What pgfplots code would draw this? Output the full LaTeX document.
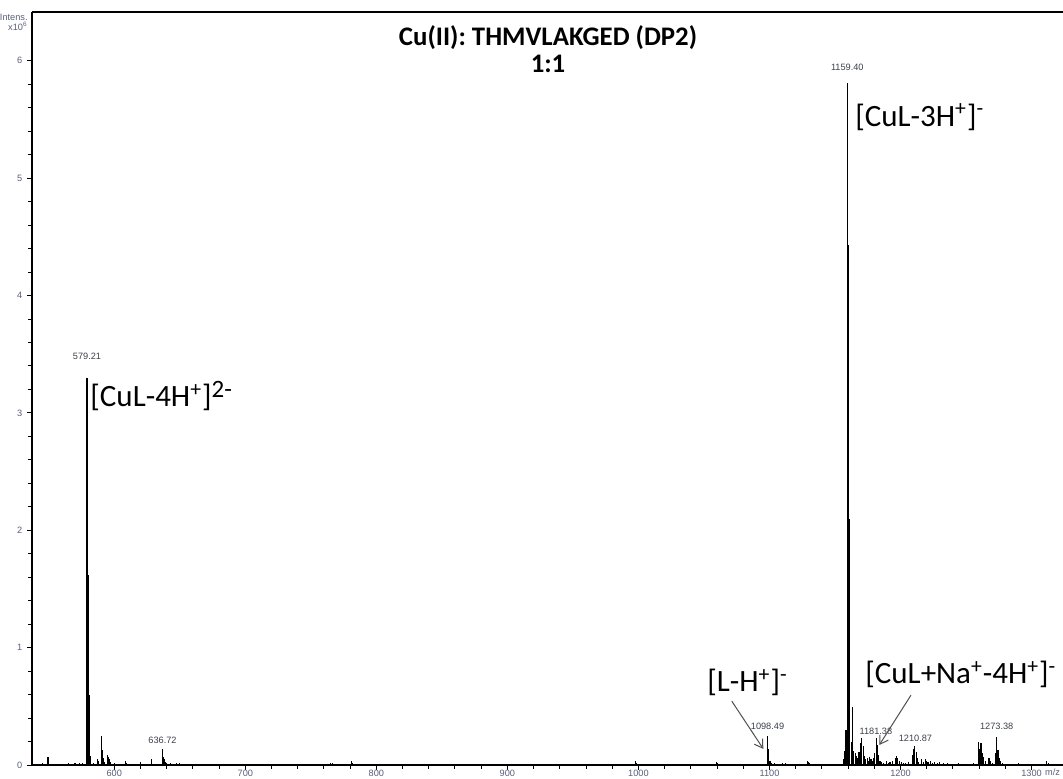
\documentclass[border=0pt]{standalone}
\usepackage{fontspec}
\setmainfont{Carlito}
\newfontfamily\arialfont{Liberation Sans}
\usepackage{pgfplots}
\pgfplotsset{compat=1.18}
\usetikzlibrary{arrows.meta}
\definecolor{tickgray}{RGB}{88,96,122}
\definecolor{peakgray}{RGB}{60,64,74}
\definecolor{arrowgray}{RGB}{80,80,80}

% m/z  intensity (x10^6)
\pgfplotstableread{
mz int
545.0 0.02
549.4 0.07
556.0 0.01
565.0 0.015
570.0 0.015
573.5 0.015
576.0 0.02
579.21 3.30
579.71 1.00
580.21 1.62
580.71 0.60
581.21 0.22
581.71 0.08
584.0 0.02
587.5 0.05
588.2 0.04
590.4 0.25
591.0 0.13
591.7 0.06
592.5 0.03
595.0 0.09
595.6 0.07
596.3 0.05
597.0 0.03
600.5 0.02
608.7 0.04
609.5 0.02
614.0 0.01
619.7 0.03
621.0 0.01
628.6 0.05
636.72 0.14
637.3 0.07
637.9 0.05
638.6 0.04
639.3 0.03
640.0 0.02
643.0 0.015
647.5 0.02
650.0 0.02
655.0 0.01
665.0 0.01
680.0 0.008
700.0 0.01
712.0 0.008
740.0 0.008
758.0 0.01
765.0 0.015
766.5 0.015
780.7 0.035
781.2 0.03
781.8 0.02
790.0 0.008
820.0 0.008
843.0 0.01
850.0 0.008
880.0 0.008
920.0 0.008
950.0 0.01
997.6 0.035
998.3 0.02
1040.0 0.008
1059.9 0.025
1060.5 0.015
1080.0 0.008
1090.0 0.01
1098.49 0.25
1099.5 0.14
1100.4 0.04
1101.5 0.02
1104.0 0.015
1110.0 0.015
1112.0 0.02
1119.0 0.01
1128.8 0.035
1129.5 0.03
1130.3 0.015
1140.0 0.01
1148.0 0.01
1156.3 0.05
1157.4 0.12
1158.4 0.30
1159.40 5.81
1159.90 2.40
1160.40 4.43
1160.90 2.10
1161.40 1.76
1162.40 0.20
1163.40 0.50
1164.4 0.12
1165.4 0.10
1166.3 0.08
1167.4 0.06
1168.3 0.11
1169.3 0.19
1170.5 0.23
1171.5 0.16
1172.5 0.08
1173.4 0.05
1174.5 0.06
1175.5 0.04
1176.6 0.07
1177.5 0.05
1178.5 0.04
1179.4 0.06
1180.4 0.10
1181.38 0.23
1182.4 0.17
1183.4 0.09
1184.3 0.04
1185.5 0.03
1187.0 0.02
1189.0 0.035
1190.5 0.02
1192.0 0.03
1194.0 0.04
1196.0 0.06
1197.0 0.08
1198.0 0.06
1199.0 0.04
1200.5 0.03
1202.0 0.02
1204.0 0.02
1206.0 0.03
1208.9 0.09
1209.9 0.14
1210.87 0.16
1211.9 0.11
1212.8 0.06
1214.0 0.03
1216.0 0.05
1217.5 0.03
1219.0 0.05
1220.0 0.04
1221.0 0.03
1223.0 0.04
1224.5 0.02
1226.0 0.03
1228.0 0.02
1230.0 0.025
1233.0 0.02
1236.0 0.015
1240.0 0.01
1244.0 0.015
1248.0 0.01
1252.0 0.01
1256.0 0.02
1259.3 0.20
1260.4 0.14
1261.4 0.19
1262.4 0.10
1263.5 0.07
1265.0 0.04
1267.5 0.06
1268.5 0.04
1270.0 0.02
1272.4 0.10
1273.38 0.24
1274.4 0.13
1275.4 0.06
1276.4 0.04
1278.0 0.02
1282.0 0.01
1290.0 0.015
1300.0 0.01
1311.7 0.04
1312.6 0.02
1314.0 0.01
1318.0 0.01
1322.0 0.01
}\spectrum

\newcommand{\smallarial}{\arialfont\fontsize{4.6}{5.2}\selectfont}
\newcommand{\ion}{\fontsize{15.5}{17}\selectfont}
% larger raised charge, as in the 2- of the doubly charged ion
\newcommand{\bigsup}[1]{\raisebox{0.62ex}{\fontsize{12.5}{13}\selectfont #1}}

\begin{document}
\begin{tikzpicture}
\begin{axis}[
  name=ax, at={(0,0)}, anchor=south west,
  scale only axis, width=515.5pt, height=376.6pt,
  xmin=537.2, xmax=1324, ymin=0, ymax=6.415,
  axis y line*=left,
  xtick={600,700,...,1300}, minor x tick num=4,
  ytick={0,1,...,6}, minor y tick num=4,
  xtick pos=left,
  tick align=outside,
  major tick length=2.4pt, minor tick length=1.8pt,
  tick style={black, line width=0.5pt},
  axis line style={line width=0.8pt},
  ticklabel style={font=\smallarial, text=tickgray},
  /pgf/number format/assume math mode=true,
  /pgf/number format/1000 sep={},
  xticklabel style={yshift=3.6pt},
  yticklabel style={xshift=1pt},
  clip=false,
]
\addplot[ycomb, black, line width=0.55pt, mark=none] table[x=mz, y=int] {\spectrum};

% peak labels
\begin{scope}[every node/.style={font=\smallarial, text=peakgray, inner sep=0pt}]
\node at (axis cs:579.21,3.48) {579.21};
\node at (axis cs:636.8,0.21) {636.72};
\node at (axis cs:1098.5,0.33) {1098.49};
\node at (axis cs:1159.4,5.94) {1159.40};
\node at (axis cs:1181.2,0.29) {1181.38};
\node at (axis cs:1211.4,0.23) {1210.87};
\node at (axis cs:1273.4,0.33) {1273.38};
\end{scope}

% ion assignments
\node[anchor=west, inner sep=0pt, font=\ion] at (axis cs:581.5,3.145)
  {[CuL-4H\textsuperscript{+}]\bigsup{2-}};
\node[anchor=west, inner sep=0pt, font=\ion] at (axis cs:1165.2,5.52)
  {[CuL-3H\textsuperscript{+}]\textsuperscript{-}};
\node[anchor=west, inner sep=0pt, font=\ion] at (axis cs:1052.3,0.705)
  {[L-H\textsuperscript{+}]\textsuperscript{-}};
\node[anchor=west, inner sep=0pt, font=\ion] at (axis cs:1172.9,0.773)
  {[CuL+Na\textsuperscript{+}-4H\textsuperscript{+}]\textsuperscript{-}};

\draw[arrowgray, line width=0.5pt, -{Straight Barb[length=4pt,width=5pt]}]
  (axis cs:1071.2,0.546) -- (axis cs:1095.3,0.139);
\draw[arrowgray, line width=0.5pt, -{Straight Barb[length=4pt,width=5pt]}]
  (axis cs:1208.0,0.597) -- (axis cs:1183.8,0.172);

% title
\node[align=center, font=\bfseries\fontsize{13.4}{13.5}\selectfont, inner sep=0pt]
  at (axis cs:931,6.10) {Cu(II): THMVLAKGED (DP2)\\1:1};

% axis captions
\node[anchor=north east, align=right, inner sep=0pt, font=\smallarial, text=tickgray]
  at ([xshift=-2pt,yshift=-0.8pt]rel axis cs:0,1) {Intens.\\x10\textsuperscript{6}};
\node[anchor=north, inner sep=0pt, font=\smallarial, text=tickgray]
  at ([yshift=-1.8pt]axis cs:1316,0) {m/z};
\end{axis}
\pgfresetboundingbox
\path[use as bounding box] ([xshift=-16pt,yshift=-6.4pt]ax.south west)
  rectangle ([yshift=6pt]ax.north east);
\end{tikzpicture}
\end{document}
